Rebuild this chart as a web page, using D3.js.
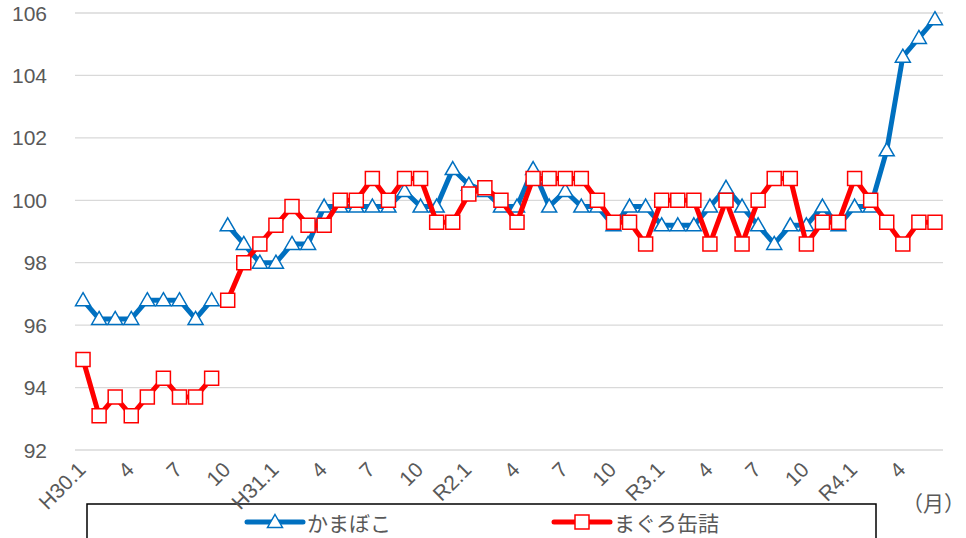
<!DOCTYPE html>
<html>
<head>
<meta charset="utf-8">
<script src="https://cdn.jsdelivr.net/npm/d3@7"></script>
<style>
  body { margin: 0; background: #fff; }
  svg text { font-family: "Liberation Sans", Arial, "Noto Sans CJK JP", sans-serif; fill: #595959; }
  .jp { font-family: "Noto Sans CJK JP", sans-serif; }
</style>
</head>
<body>
<div id="chart"></div>
<script>
// months H30.1 .. R4.6
const months = [
  "H30.1", "2", "3", "4", "5", "6", "7", "8", "9", "10", "11", "12",
  "H31.1", "2", "3", "4", "5", "6", "7", "8", "9", "10", "11", "12",
  "R2.1", "2", "3", "4", "5", "6", "7", "8", "9", "10", "11", "12",
  "R3.1", "2", "3", "4", "5", "6", "7", "8", "9", "10", "11", "12",
  "R4.1", "2", "3", "4", "5", "6"
];
const kamaboko = [
  96.8, 96.2, 96.2, 96.2, 96.8, 96.8, 96.8, 96.2, 96.8,
  99.2, 98.6, 98.0, 98.0, 98.6, 98.6, 99.8, 99.8, 99.8, 99.8, 99.8, 100.3, 99.8, 99.8, 101.0,
  100.5, 100.3, 99.8, 99.8, 101.0, 99.8, 100.3, 99.8, 99.8, 99.2, 99.8, 99.8,
  99.2, 99.2, 99.2, 99.8, 100.4, 99.8, 99.2, 98.6, 99.2, 99.2, 99.8, 99.2,
  99.8, 99.8, 101.6, 104.6, 105.2, 105.8
];
const maguro = [
  94.9, 93.1, 93.7, 93.1, 93.7, 94.3, 93.7, 93.7, 94.3,
  96.8, 98.0, 98.6, 99.2, 99.8, 99.2, 99.2, 100.0, 100.0, 100.7, 100.0, 100.7, 100.7, 99.3, 99.3,
  100.2, 100.4, 100.0, 99.3, 100.7, 100.7, 100.7, 100.7, 100.0, 99.3, 99.3, 98.6,
  100.0, 100.0, 100.0, 98.6, 100.0, 98.6, 100.0, 100.7, 100.7, 98.6, 99.3, 99.3,
  100.7, 100.0, 99.3, 98.6, 99.3, 99.3
];
// the series are not joined between H30.9 and H30.10
const breakAfter = 8;
const yTicks = [92, 94, 96, 98, 100, 102, 104, 106];
const legendNames = ["かまぼこ", "まぐろ缶詰"];

const width = 966, height = 538;
const svg = d3.select("#chart").append("svg")
  .attr("width", width).attr("height", height);

const x = d3.scaleBand().domain(d3.range(months.length)).range([75, 943]);
const cx = (i) => x(i) + x.bandwidth() / 2;
const y = d3.scaleLinear().domain([92, 106]).range([450, 13]);

// grid
svg.append("g").selectAll("line").data(yTicks).join("line")
  .attr("x1", 75).attr("x2", 943)
  .attr("y1", (d) => y(d)).attr("y2", (d) => y(d))
  .attr("stroke", "#d9d9d9").attr("stroke-width", 1.3);

svg.append("g").selectAll("text").data(yTicks).join("text")
  .attr("x", 47).attr("y", (d) => y(d))
  .attr("text-anchor", "end").attr("dominant-baseline", "central")
  .attr("font-size", 21)
  .text((d) => d);

const line = d3.line().x((d) => cx(d.i)).y((d) => y(d.v));
const segs = (vals) => {
  const pts = vals.map((v, i) => ({ i, v }));
  return [pts.slice(0, breakAfter + 1), pts.slice(breakAfter + 1)];
};

const triangle = "M0,-7.5L7.5,5.5L-7.5,5.5Z";
const square = "M-7,-7H7V7H-7Z";

function drawSeries(vals, color, marker) {
  const g = svg.append("g");
  g.selectAll("path.l").data(segs(vals)).join("path")
    .attr("class", "l")
    .attr("d", line)
    .attr("fill", "none")
    .attr("stroke", color)
    .attr("stroke-width", 5)
    .attr("stroke-linejoin", "round");
  g.selectAll("path.m").data(vals).join("path")
    .attr("class", "m")
    .attr("transform", (d, i) => `translate(${cx(i)},${y(d)})`)
    .attr("d", marker)
    .attr("fill", "#fff")
    .attr("stroke", color)
    .attr("stroke-width", 1.5);
}

drawSeries(kamaboko, "#0070c0", triangle);
drawSeries(maguro, "#ff0000", square);

// legend
const lg = svg.append("g");
lg.append("rect")
  .attr("x", 87).attr("y", 504).attr("width", 789).attr("height", 60)
  .attr("fill", "#fff").attr("stroke", "#000").attr("stroke-width", 1.5);

const legendItems = [
  { name: legendNames[0], color: "#0070c0", marker: triangle, x0: 247 },
  { name: legendNames[1], color: "#ff0000", marker: square, x0: 554 }
];
legendItems.forEach((it) => {
  lg.append("line")
    .attr("x1", it.x0).attr("x2", it.x0 + 56)
    .attr("y1", 522).attr("y2", 522)
    .attr("stroke", it.color).attr("stroke-width", 5)
    .attr("stroke-linecap", "round");
  lg.append("path")
    .attr("transform", `translate(${it.x0 + 28},522)`)
    .attr("d", it.marker)
    .attr("fill", "#fff").attr("stroke", it.color).attr("stroke-width", 1.5);
  lg.append("text").attr("class", "jp")
    .attr("x", it.x0 + 60).attr("y", 522)
    .attr("dominant-baseline", "central")
    .attr("font-size", 21)
    .text(it.name);
});

// x labels every 3 months, turned 45 degrees; they run over the legend frame
svg.append("g").selectAll("text")
  .data(d3.range(0, months.length, 3))
  .join("text")
  .attr("x", (i) => cx(i) + 4)
  .attr("y", 471)
  .attr("transform", (i) => `rotate(-45 ${cx(i) + 4} 471)`)
  .attr("text-anchor", "end")
  .attr("font-size", 21)
  .text((i) => months[i]);

svg.append("text").attr("class", "jp")
  .attr("x", 902).attr("y", 502)
  .attr("dominant-baseline", "central")
  .attr("font-size", 21)
  .text("（月）");
</script>
</body>
</html>
